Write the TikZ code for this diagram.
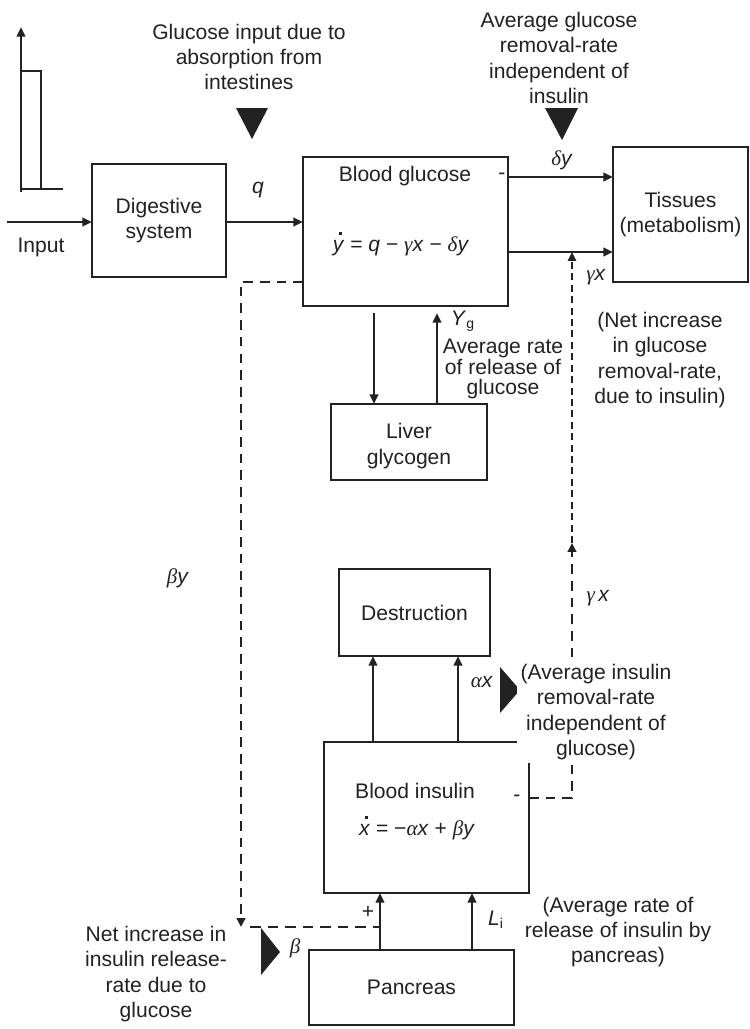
\documentclass[tikz,border=0pt]{standalone}
\usepackage{fontspec}
\setmainfont{Liberation Sans}
\newfontfamily\grkfont{Liberation Serif}
\usetikzlibrary{arrows.meta,calc}
\definecolor{ink}{HTML}{222222}
% Greek symbols in a serif italic, Latin variables in sans italic
\newcommand\gk[1]{{\grkfont\itshape #1}}
% time derivative: a small dot set above an italic variable
\newcommand\dotvar[1]{\ooalign{\textit{#1}\cr\hidewidth\kern0.2em\raisebox{0.78em}{\rule{0.13em}{0.13em}}\hidewidth\cr}}

\begin{document}
\begin{tikzpicture}[x=0.02cm,y=-0.02cm,
  font=\fontsize{12pt}{14.3pt}\selectfont, text=ink,
  box/.style={draw=ink, line width=0.85pt, inner sep=0pt, outer sep=0pt, align=center, fill=white},
  txt/.style={align=center, inner sep=2pt},
  flow/.style={draw=ink, line width=1.6pt, -{Triangle[length=5.5pt,width=4.8pt]}},
  plain/.style={draw=ink, line width=1.6pt},
  dflow/.style={draw=ink, line width=1.6pt, dash pattern=on 5.5pt off 4pt, -{Triangle[length=5pt,width=4.8pt]}},
  dline/.style={draw=ink, line width=1.6pt, dash pattern=on 6pt off 4pt},
  tflow/.style={draw=ink, line width=0.7pt, dash pattern=on 4pt off 2.5pt, -{Triangle[length=5pt,width=4.8pt]}},
  marker/.style={fill=ink, draw=none}
]
\useasboundingbox (0,0) rectangle (750,1029);

% ---- input pulse sketch ----
\coordinate (ax0) at (21,192);
\coordinate (ax1) at (21,27);
\draw[flow] (ax0) -- (ax1);
\draw[plain] (21,189) -- (63,189);
\draw[plain] (21,71) -- (41,71) -- (41,189);

% ---- blocks ----
\node[box, minimum width=2.68cm, minimum height=2.26cm] (dig) at (159,220.5) {Digestive\\system};
\node[box, minimum width=4.10cm, minimum height=2.98cm] (bg) at (405.5,231.5) {};
\node[box, minimum width=2.70cm, minimum height=2.70cm] (tis) at (680.5,214.5) {Tissues\\(metabolism)};
\node[box, minimum width=3.12cm, minimum height=1.52cm] (liver) at (409,442) {};
\node[box, minimum width=3.02cm, minimum height=1.74cm] (destr) at (414.5,612.5) {Destruction};
\node[box, minimum width=4.10cm, minimum height=3.02cm] (bi) at (426.5,817.5) {};
\node[box, minimum width=4.10cm, minimum height=1.50cm] (panc) at (411.5,987.5) {Pancreas};

\node[txt] (bgt) at (405,176) {Blood glucose};
\node[txt] (bge) at (401,246) {\dotvar{y} = \textit{q} − \gk{γ}\textit{x} − \gk{δ}\textit{y}};
\node[txt] (livt) at (409,446) {Liver\\glycogen};
\node[txt] (bit) at (415,791) {Blood insulin};
\node[txt] (bie) at (417,830) {\dotvar{x} = −\gk{α}\textit{x} + \gk{β}\textit{y}};

% ---- input and glucose flows ----
\coordinate (inp) at (7,222);
\draw[flow] (inp) -- (inp -| dig.west);
\node[txt] (inlab) at (41,247) {Input};
\coordinate (qy) at (0,222);
\draw[flow] (dig.east |- qy) -- (bg.west |- qy);
\node[txt] (qlab) at (258,190) {\textit{q}};

\coordinate (dyY) at (0,177);
\coordinate (gxY) at (0,252);
\draw[flow] (bg.east |- dyY) -- (tis.west |- dyY);
\draw[flow] (bg.east |- gxY) -- (tis.west |- gxY);
\node[txt] (dylab) at (562,160) {\gk{δ}\textit{y}};
\node[txt] (gxlab) at (596,277) {\gk{γ}\textit{x}};
\node[txt, inner sep=0pt] (minus1) at (502,176) {-};

% ---- liver exchange ----
\coordinate (ldn) at (374,313);
\coordinate (lup) at (437,313);
\draw[flow] (ldn) -- (ldn |- liver.north);
\draw[flow] (lup |- liver.north) -- (lup);
\node[txt] (yglab) at (463,321) {\textit{Y}\textsubscript{g}};
\node[txt, font=\fontsize{12pt}{11.9pt}\selectfont] (ygtxt) at (503,369) {Average rate\\of release of\\glucose};

% ---- insulin to destruction ----
\coordinate (d1) at (373,0);
\coordinate (d2) at (458,0);
\draw[flow] (bi.north -| d1) -- (destr.south -| d1);
\draw[flow] (bi.north -| d2) -- (destr.south -| d2);
\node[txt] (axlab) at (482,682) {\gk{α}\textit{x}};

% ---- pancreas to insulin ----
\coordinate (p1) at (380,0);
\coordinate (p2) at (472,0);
\draw[flow] (panc.north -| p1) -- (bi.south -| p1);
\draw[flow] (panc.north -| p2) -- (bi.south -| p2);
\node[txt] (lilab) at (496,920) {\textit{L}\textsubscript{i}};
\node[txt, inner sep=0pt] (plus) at (368,912) {+};

% ---- glucose feedback to pancreas ----
\coordinate (byc) at (241,282);
\coordinate (byd) at (241,927);
\draw[dflow] (bg.west |- byc) -- (byc) -- (byd);
\node[txt] (bylab) at (178,578) {\gk{β}\textit{y}};
\coordinate (bst) at (250,927);
\draw[dline] (bst) -- (p1 |- bst);
\node[txt] (blab) at (295,948) {\gk{β}};

% ---- insulin action on glucose removal ----
\coordinate (gxc) at (572,798);
\coordinate (gxm) at (572,543);
\draw[dflow] (bi.east |- gxc) -- (gxc) -- (gxm);
\draw[tflow] (gxm) -- (gxm |- gxY);
\node[txt, inner sep=0pt] (minus2) at (517,798) {-};
\node[txt] (gxlab2) at (598,598) {\gk{γ}\,\textit{x}};

% ---- markers ----
\fill[marker] (236,108) -- (268,108) -- (252,139) -- cycle;
\fill[marker] (545,108) -- (578,108) -- (562,140) -- cycle;
\fill[marker] (500,667) -- (500,713) -- (520,690) -- cycle;
\fill[marker] (261,928) -- (261,975) -- (280,952) -- cycle;

% ---- annotations ----
\node[txt] (t1) at (249,57) {Glucose input due to\\absorption from\\intestines};
\node[txt, font=\fontsize{12pt}{25.5\dimexpr 0.02cm\relax}\selectfont] (t2) at (559,58) {Average glucose\\removal-rate\\independent of\\insulin};
\node[txt] (t4) at (660,360) {(Net increase\\in glucose\\removal-rate,\\due to insulin)};
\node[txt, fill=white] (t5) at (596,712) {(Average insulin\\removal-rate\\independent of\\glucose)};
\node[txt] (t6) at (618,932) {(Average rate of\\release of insulin by\\pancreas)};
\node[txt] (t7) at (156,974) {Net increase in\\insulin release-\\rate due to\\glucose};
\end{tikzpicture}
\end{document}
